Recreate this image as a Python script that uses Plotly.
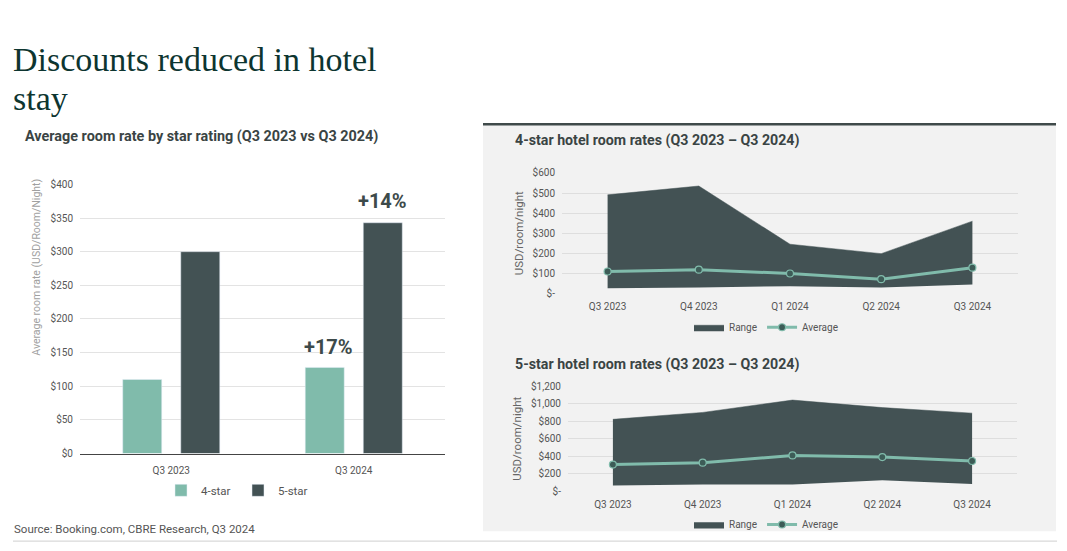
import plotly.graph_objects as go

# ---------------- data ----------------
bar_categories = ["Q3 2023", "Q3 2024"]
four_star_avg = [110, 128]
five_star_avg = [300, 343]
bar_ticks = [0, 50, 100, 150, 200, 250, 300, 350, 400]
bar_ticktext = ["$0", "$50", "$100", "$150", "$200", "$250", "$300", "$350", "$400"]
growth_labels = ["+17%", "+14%"]

quarters = ["Q3 2023", "Q4 2023", "Q1 2024", "Q2 2024", "Q3 2024"]
four_low = [26, 29, 36, 29, 44]
four_high = [491, 535, 245, 198, 360]
four_avg = [109, 118, 99, 71, 128]
four_ticks = [0, 100, 200, 300, 400, 500, 600]
four_ticktext = ["$-", "$100", "$200", "$300", "$400", "$500", "$600"]

five_low = [67, 78, 78, 126, 82]
five_high = [821, 900, 1041, 955, 892]
five_avg = [305, 327, 409, 390, 346]
five_ticks = [0, 200, 400, 600, 800, 1000, 1200]
five_ticktext = ["$-", "$200", "$400", "$600", "$800", "$1,000", "$1,200"]

# ---------------- styles ----------------
W, H = 1067, 551
TEAL = "#80bbab"
DARK = "#435254"
FONT = "Roboto"
TICKC = "#555555"


def px(x):
    return x / W


def py(y):
    return 1 - y / H


fig = go.Figure()

# left bar chart
fig.add_trace(go.Bar(x=bar_categories, y=four_star_avg, name="4-star", marker_color=TEAL,
                     xaxis="x", yaxis="y", legend="legend"))
fig.add_trace(go.Bar(x=bar_categories, y=five_star_avg, name="5-star", marker_color=DARK,
                     xaxis="x", yaxis="y", legend="legend"))

# 4-star panel
fig.add_trace(go.Scatter(x=quarters, y=four_low, mode="lines", line=dict(width=0, color=DARK),
                         showlegend=False, hoverinfo="skip", xaxis="x2", yaxis="y2"))
fig.add_trace(go.Scatter(x=quarters, y=four_high, mode="lines", fill="tonexty", fillcolor=DARK,
                         line=dict(width=0.5, color=DARK), name="Range", xaxis="x2", yaxis="y2",
                         legend="legend2"))
fig.add_trace(go.Scatter(x=quarters, y=four_avg, mode="lines+markers", name="Average",
                         line=dict(width=3, color=TEAL),
                         marker=dict(size=7, color="#3d5c57", line=dict(width=1.2, color=TEAL)),
                         xaxis="x2", yaxis="y2", legend="legend2"))

# 5-star panel
fig.add_trace(go.Scatter(x=quarters, y=five_low, mode="lines", line=dict(width=0, color=DARK),
                         showlegend=False, hoverinfo="skip", xaxis="x3", yaxis="y3"))
fig.add_trace(go.Scatter(x=quarters, y=five_high, mode="lines", fill="tonexty", fillcolor=DARK,
                         line=dict(width=0.5, color=DARK), name="Range", xaxis="x3", yaxis="y3",
                         legend="legend3"))
fig.add_trace(go.Scatter(x=quarters, y=five_avg, mode="lines+markers", name="Average",
                         line=dict(width=3, color=TEAL),
                         marker=dict(size=7, color="#3d5c57", line=dict(width=1.2, color=TEAL)),
                         xaxis="x3", yaxis="y3", legend="legend3"))

tickfont = dict(family=FONT, size=10, color=TICKC)
ytitlefont = dict(family=FONT, size=11.5, color="#666666")

fig.update_layout(
    width=W, height=H,
    margin=dict(l=0, r=0, t=0, b=0),
    paper_bgcolor="white",
    plot_bgcolor="rgba(0,0,0,0)",
    barmode="group", bargap=0.364, bargroupgap=0.328,
    font=dict(family=FONT, color=TICKC),
    xaxis=dict(domain=[px(80), px(445)], type="category", showgrid=False,
               showline=True, linecolor="#444444", linewidth=1.2, tickfont=tickfont,
               ticks="", ticklabelstandoff=7, fixedrange=True),
    yaxis=dict(domain=[py(457.3), py(181.7)], range=[0, 400], tickvals=bar_ticks,
               ticktext=bar_ticktext, showgrid=True, gridcolor="#e3e3e3", gridwidth=1,
               zeroline=False, tickfont=tickfont, ticks="", ticklabelstandoff=6),
    xaxis2=dict(domain=[px(562), px(1018)], type="category", range=[-0.5, 4.5], showgrid=False,
                showline=False, tickfont=tickfont, ticks="", anchor="y2", ticklabelstandoff=6),
    yaxis2=dict(domain=[py(293.3), py(170)], range=[0, 600], tickvals=four_ticks,
                ticktext=four_ticktext, showgrid=True, gridcolor="#dedede", zeroline=False,
                tickfont=tickfont, ticks="", anchor="x2", ticklabelstandoff=6,
                title=dict(text="USD/room/night", font=ytitlefont, standoff=6)),
    xaxis3=dict(domain=[px(568), px(1017)], type="category", range=[-0.5, 4.5], showgrid=False,
                showline=False, tickfont=tickfont, ticks="", anchor="y3", ticklabelstandoff=6),
    yaxis3=dict(domain=[py(496), py(388.3)], range=[0, 1200], tickvals=five_ticks,
                ticktext=five_ticktext, showgrid=True, gridcolor="#dedede", zeroline=False,
                tickfont=tickfont, ticks="", anchor="x3", ticklabelstandoff=6,
                title=dict(text="USD/room/night", font=ytitlefont, standoff=6)),
    legend=dict(orientation="h", x=px(238), y=py(495), xanchor="center", yanchor="middle",
                bgcolor="rgba(0,0,0,0)", font=dict(family=FONT, size=11.5, color=TICKC),
                itemwidth=30, entrywidth=32, traceorder="normal"),
    legend2=dict(orientation="h", x=px(766), y=py(328), xanchor="center", yanchor="middle",
                 bgcolor="rgba(0,0,0,0)", font=dict(family=FONT, size=10, color=TICKC),
                 traceorder="normal"),
    legend3=dict(orientation="h", x=px(766), y=py(530), xanchor="center", yanchor="middle",
                 bgcolor="rgba(0,0,0,0)", font=dict(family=FONT, size=10, color=TICKC),
                 traceorder="normal"),
    shapes=[
        dict(type="rect", xref="paper", yref="paper", x0=px(483), x1=px(1056), y0=py(537), y1=py(120),
             fillcolor="#f2f2f2", line=dict(width=0), layer="below"),
        dict(type="line", xref="paper", yref="paper", x0=px(483), x1=px(1056), y0=py(120), y1=py(120),
             line=dict(color="#3f4a4a", width=2.5)),
        dict(type="line", xref="paper", yref="paper", x0=px(13), x1=px(1057), y0=py(547), y1=py(547),
             line=dict(color="#cfcfcf", width=1)),
    ],
)

annotations = [
    dict(text="Discounts reduced in hotel", x=px(11), y=py(54), xanchor="left", yanchor="middle",
         font=dict(family="Liberation Serif", size=34, color="#0d3530")),
    dict(text="stay", x=px(11), y=py(94), xanchor="left", yanchor="middle",
         font=dict(family="Liberation Serif", size=34, color="#0d3530")),
    dict(text="<b>Average room rate by star rating (Q3 2023 vs Q3 2024)</b>", x=px(23), y=py(133),
         xanchor="left", yanchor="middle", font=dict(family=FONT, size=14.4, color="#3a4444")),
    dict(text="Average room rate (USD/Room/Night)", x=px(37), y=py(267), textangle=-90,
         xanchor="center", yanchor="middle", font=dict(family=FONT, size=10.5, color="#a0a0a0")),
    dict(text="<b>4-star hotel room rates (Q3 2023 – Q3 2024)</b>", x=px(513), y=py(137),
         xanchor="left", yanchor="middle", font=dict(family=FONT, size=14.2, color="#3a4444")),
    dict(text="<b>5-star hotel room rates (Q3 2023 – Q3 2024)</b>", x=px(513), y=py(366),
         xanchor="left", yanchor="middle", font=dict(family=FONT, size=14.2, color="#3a4444")),
    dict(text="Source: Booking.com, CBRE Research, Q3 2024", x=px(12), y=py(535),
         xanchor="left", yanchor="middle", font=dict(family=FONT, size=11.5, color="#555555")),
]
for a in annotations:
    a.update(xref="paper", yref="paper", showarrow=False)

# growth labels above the Q3 2024 bars
annotations.append(dict(text="<b>%s</b>" % growth_labels[0], xref="x", yref="y", x=bar_categories[1],
                        y=four_star_avg[1], xshift=-25, yshift=6, yanchor="bottom", showarrow=False,
                        font=dict(family=FONT, size=20, color="#3d4a4a")))
annotations.append(dict(text="<b>%s</b>" % growth_labels[1], xref="x", yref="y", x=bar_categories[1],
                        y=five_star_avg[1], xshift=29, yshift=8, yanchor="bottom", showarrow=False,
                        font=dict(family=FONT, size=20, color="#3d4a4a")))

fig.update_layout(annotations=annotations)
fig.write_html("out.html")
